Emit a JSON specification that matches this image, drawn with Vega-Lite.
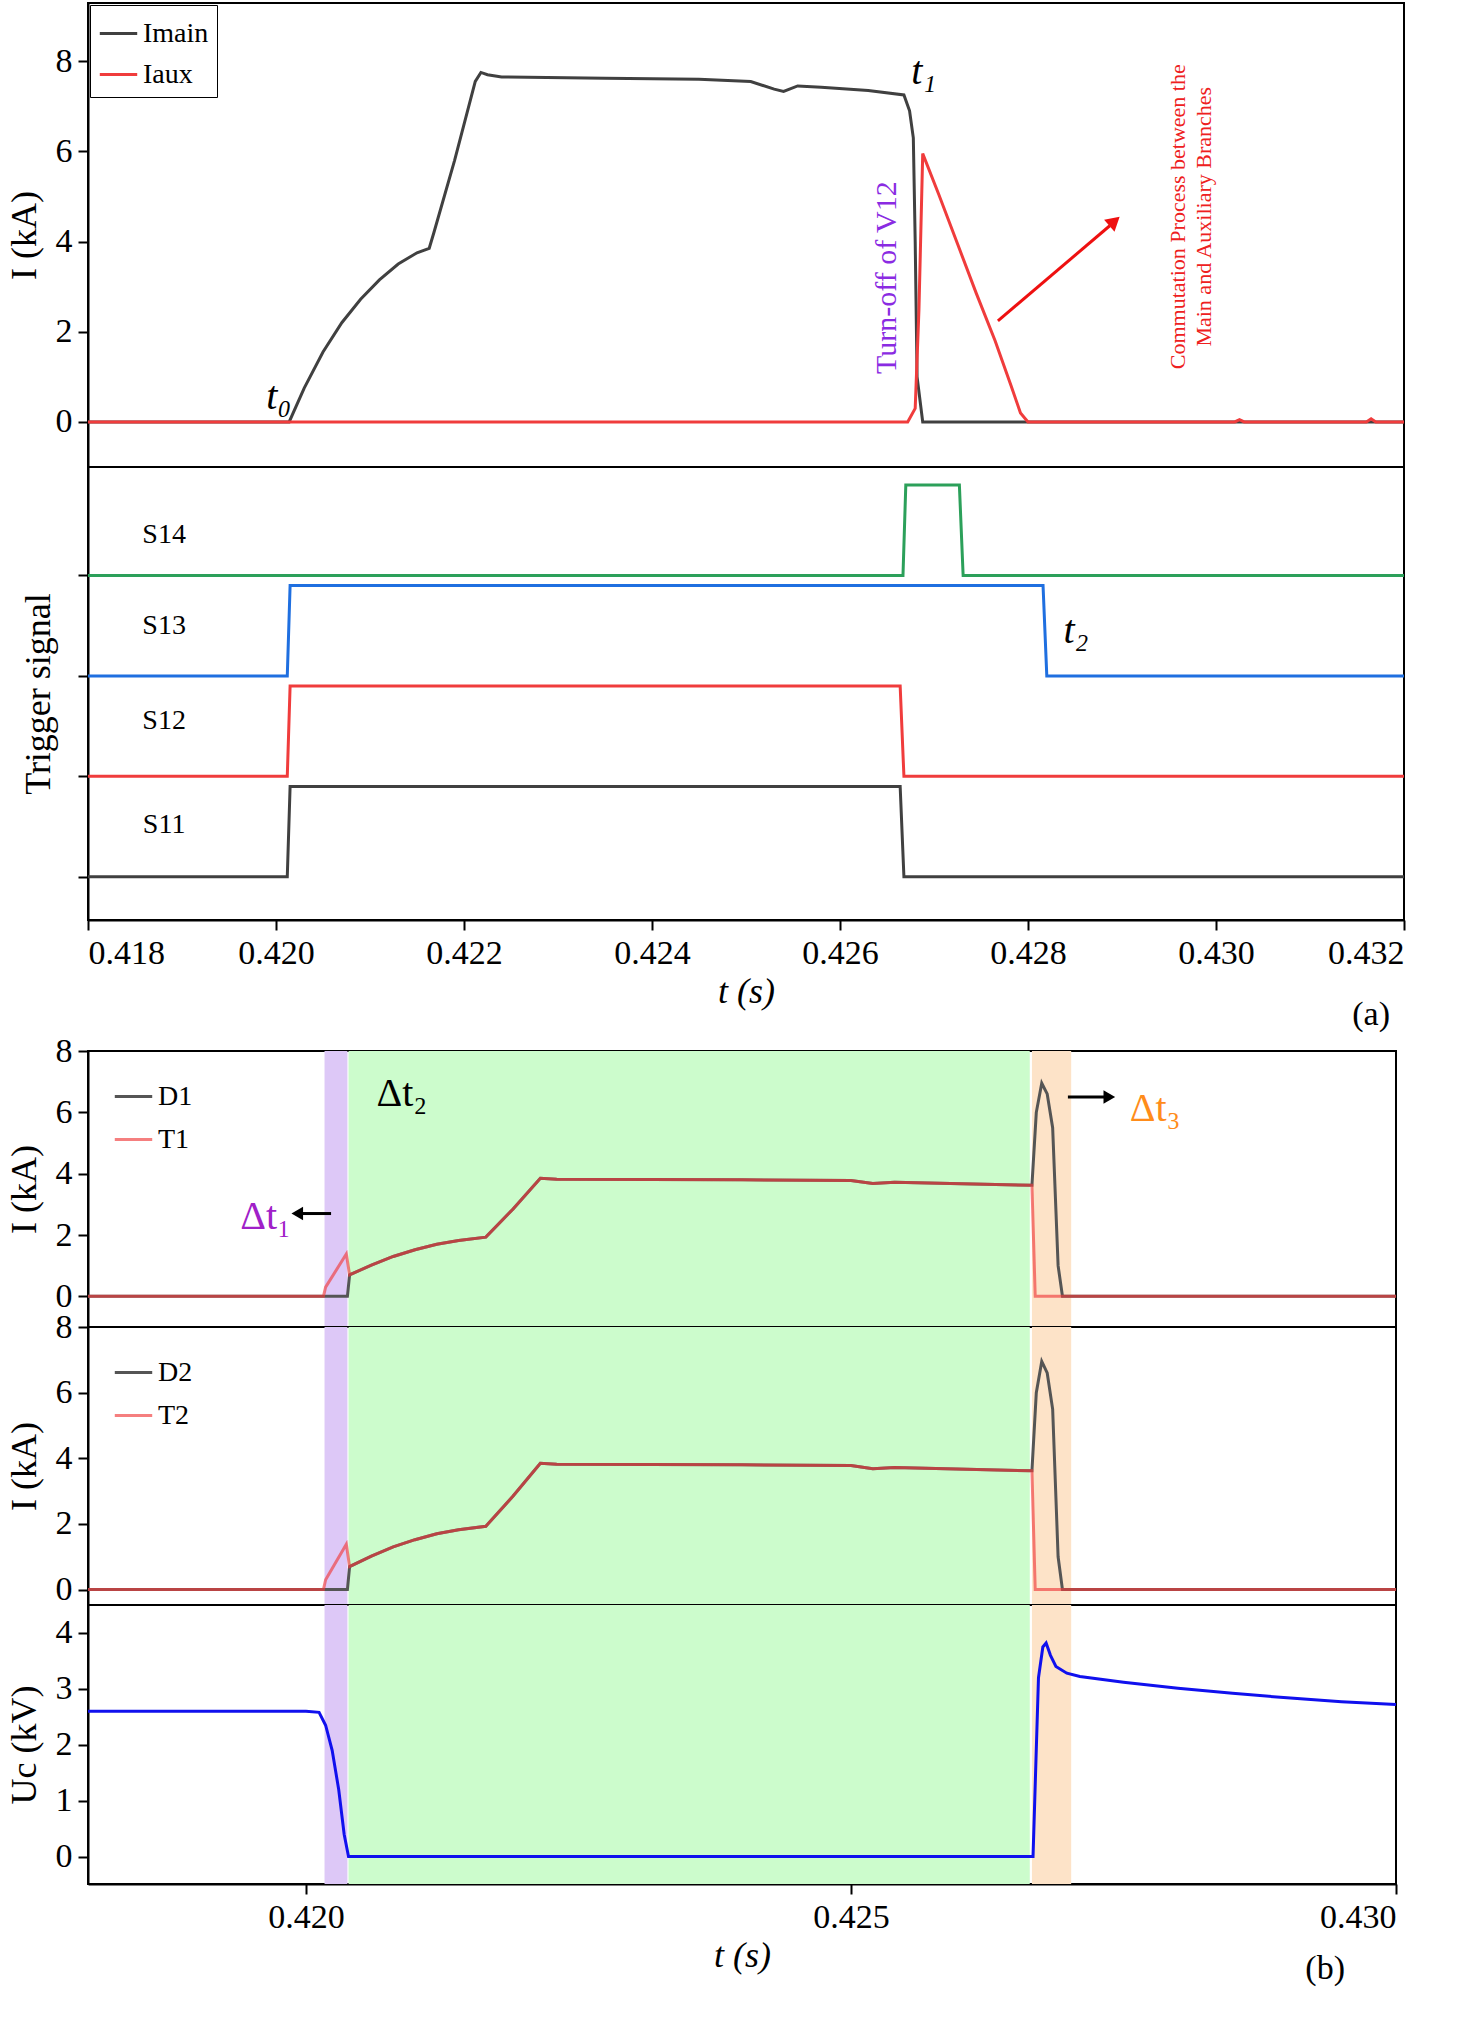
{
  "$schema": "https://vega.github.io/schema/vega-lite/v6.json",
  "background": "white",
  "padding": {"left": 5, "top": 2, "right": 20, "bottom": 5},
  "spacing": 0,
  "resolve": {"scale": {"x": "independent", "color": "independent", "stroke": "independent", "opacity": "independent", "shape": "independent"}, "legend": {"color": "independent", "stroke": "independent"}},
  "config": {
    "font": "Liberation Serif",
    "view": {"stroke": "black", "strokeWidth": 2},
    "axis": {"labelFont": "Liberation Serif", "titleFont": "Liberation Serif", "labelFontSize": 34, "titleFontSize": 36, "titleFontWeight": "normal", "labelColor": "black", "titleColor": "black", "domainColor": "black", "tickColor": "black", "domainWidth": 2, "tickWidth": 2, "tickSize": 10, "grid": false, "labelPadding": 6},
    "legend": {"labelFont": "Liberation Serif", "labelFontSize": 28, "labelColor": "black", "symbolStrokeWidth": 3, "symbolSize": 1400},
    "text": {"font": "Liberation Serif"}
  },
  "datasets": {
    "top": [
      {"t": 0.418, "i": 0, "s": "Imain"}, {"t": 0.42014, "i": 0, "s": "Imain"}, {"t": 0.4203, "i": 0.75, "s": "Imain"}, {"t": 0.4205, "i": 1.55, "s": "Imain"}, {"t": 0.4207, "i": 2.2, "s": "Imain"}, {"t": 0.4209, "i": 2.72, "s": "Imain"}, {"t": 0.4211, "i": 3.15, "s": "Imain"}, {"t": 0.4213, "i": 3.5, "s": "Imain"}, {"t": 0.4215, "i": 3.75, "s": "Imain"}, {"t": 0.42163, "i": 3.85, "s": "Imain"}, {"t": 0.42168, "i": 4.2, "s": "Imain"}, {"t": 0.4219, "i": 5.8, "s": "Imain"}, {"t": 0.42212, "i": 7.55, "s": "Imain"}, {"t": 0.42218, "i": 7.75, "s": "Imain"}, {"t": 0.42225, "i": 7.7, "s": "Imain"}, {"t": 0.4224, "i": 7.65, "s": "Imain"}, {"t": 0.4235, "i": 7.62, "s": "Imain"}, {"t": 0.4245, "i": 7.6, "s": "Imain"}, {"t": 0.42505, "i": 7.55, "s": "Imain"}, {"t": 0.4253, "i": 7.38, "s": "Imain"}, {"t": 0.4254, "i": 7.33, "s": "Imain"}, {"t": 0.42555, "i": 7.45, "s": "Imain"}, {"t": 0.4258, "i": 7.42, "s": "Imain"}, {"t": 0.4263, "i": 7.35, "s": "Imain"}, {"t": 0.42668, "i": 7.25, "s": "Imain"}, {"t": 0.42674, "i": 6.9, "s": "Imain"}, {"t": 0.42678, "i": 6.3, "s": "Imain"}, {"t": 0.4268, "i": 4.0, "s": "Imain"}, {"t": 0.42682, "i": 1.0, "s": "Imain"}, {"t": 0.42688, "i": 0, "s": "Imain"}, {"t": 0.432, "i": 0, "s": "Imain"},
      {"t": 0.418, "i": 0, "s": "Iaux"}, {"t": 0.42672, "i": 0, "s": "Iaux"}, {"t": 0.4268, "i": 0.3, "s": "Iaux"}, {"t": 0.42684, "i": 2.5, "s": "Iaux"}, {"t": 0.42688, "i": 5.95, "s": "Iaux"}, {"t": 0.42705, "i": 5.05, "s": "Iaux"}, {"t": 0.42725, "i": 3.95, "s": "Iaux"}, {"t": 0.42745, "i": 2.85, "s": "Iaux"}, {"t": 0.42765, "i": 1.8, "s": "Iaux"}, {"t": 0.42782, "i": 0.8, "s": "Iaux"}, {"t": 0.42792, "i": 0.2, "s": "Iaux"}, {"t": 0.428, "i": 0, "s": "Iaux"}, {"t": 0.4302, "i": 0, "s": "Iaux"}, {"t": 0.43025, "i": 0.05, "s": "Iaux"}, {"t": 0.4303, "i": 0, "s": "Iaux"}, {"t": 0.4316, "i": 0, "s": "Iaux"}, {"t": 0.43165, "i": 0.07, "s": "Iaux"}, {"t": 0.4317, "i": 0, "s": "Iaux"}, {"t": 0.432, "i": 0, "s": "Iaux"}
    ],
    "trig": [
      {"t": 0.418, "v": 0, "s": "S11"}, {"t": 0.42012, "v": 0, "s": "S11"}, {"t": 0.42015, "v": 0.9, "s": "S11"}, {"t": 0.42664, "v": 0.9, "s": "S11"}, {"t": 0.42668, "v": 0, "s": "S11"}, {"t": 0.432, "v": 0, "s": "S11"},
      {"t": 0.418, "v": 1, "s": "S12"}, {"t": 0.42012, "v": 1, "s": "S12"}, {"t": 0.42015, "v": 1.9, "s": "S12"}, {"t": 0.42664, "v": 1.9, "s": "S12"}, {"t": 0.42668, "v": 1, "s": "S12"}, {"t": 0.432, "v": 1, "s": "S12"},
      {"t": 0.418, "v": 2, "s": "S13"}, {"t": 0.42012, "v": 2, "s": "S13"}, {"t": 0.42015, "v": 2.9, "s": "S13"}, {"t": 0.42816, "v": 2.9, "s": "S13"}, {"t": 0.4282, "v": 2, "s": "S13"}, {"t": 0.432, "v": 2, "s": "S13"},
      {"t": 0.418, "v": 3, "s": "S14"}, {"t": 0.42667, "v": 3, "s": "S14"}, {"t": 0.4267, "v": 3.9, "s": "S14"}, {"t": 0.42727, "v": 3.9, "s": "S14"}, {"t": 0.42731, "v": 3, "s": "S14"}, {"t": 0.432, "v": 3, "s": "S14"}
    ],
    "trigLabels": [
      {"t": 0.41881, "v": 3.4, "s": "S14"}, {"t": 0.41881, "v": 2.5, "s": "S13"}, {"t": 0.41881, "v": 1.55, "s": "S12"}, {"t": 0.41881, "v": 0.52, "s": "S11"}
    ],
    "bi": [
      {"t": 0.418, "i": 0, "s": "D"}, {"t": 0.42038, "i": 0, "s": "D"}, {"t": 0.4204, "i": 0.7, "s": "D"}, {"t": 0.4206, "i": 1.02, "s": "D"}, {"t": 0.4208, "i": 1.3, "s": "D"}, {"t": 0.421, "i": 1.52, "s": "D"}, {"t": 0.4212, "i": 1.7, "s": "D"}, {"t": 0.4214, "i": 1.82, "s": "D"}, {"t": 0.42165, "i": 1.93, "s": "D"}, {"t": 0.4219, "i": 2.85, "s": "D"}, {"t": 0.42215, "i": 3.85, "s": "D"}, {"t": 0.4223, "i": 3.82, "s": "D"}, {"t": 0.424, "i": 3.8, "s": "D"}, {"t": 0.425, "i": 3.78, "s": "D"}, {"t": 0.4252, "i": 3.68, "s": "D"}, {"t": 0.4254, "i": 3.72, "s": "D"}, {"t": 0.42666, "i": 3.62, "s": "D"}, {"t": 0.4267, "i": 6.0, "s": "D"}, {"t": 0.42675, "i": 6.95, "s": "D"}, {"t": 0.4268, "i": 6.6, "s": "D"}, {"t": 0.42685, "i": 5.5, "s": "D"}, {"t": 0.4269, "i": 1.0, "s": "D"}, {"t": 0.42694, "i": 0, "s": "D"}, {"t": 0.43, "i": 0, "s": "D"},
      {"t": 0.418, "i": 0, "s": "T"}, {"t": 0.42016, "i": 0, "s": "T"}, {"t": 0.42018, "i": 0.3, "s": "T"}, {"t": 0.42037, "i": 1.38, "s": "T"}, {"t": 0.4204, "i": 0.7, "s": "T"}, {"t": 0.4206, "i": 1.02, "s": "T"}, {"t": 0.4208, "i": 1.3, "s": "T"}, {"t": 0.421, "i": 1.52, "s": "T"}, {"t": 0.4212, "i": 1.7, "s": "T"}, {"t": 0.4214, "i": 1.82, "s": "T"}, {"t": 0.42165, "i": 1.93, "s": "T"}, {"t": 0.4219, "i": 2.85, "s": "T"}, {"t": 0.42215, "i": 3.85, "s": "T"}, {"t": 0.4223, "i": 3.82, "s": "T"}, {"t": 0.424, "i": 3.8, "s": "T"}, {"t": 0.425, "i": 3.78, "s": "T"}, {"t": 0.4252, "i": 3.68, "s": "T"}, {"t": 0.4254, "i": 3.72, "s": "T"}, {"t": 0.42666, "i": 3.62, "s": "T"}, {"t": 0.42669, "i": 0, "s": "T"}, {"t": 0.43, "i": 0, "s": "T"}
    ],
    "uc": [
      {"t": 0.418, "u": 2.6}, {"t": 0.42, "u": 2.6}, {"t": 0.42012, "u": 2.58}, {"t": 0.42018, "u": 2.35}, {"t": 0.42024, "u": 1.9}, {"t": 0.4203, "u": 1.2}, {"t": 0.42035, "u": 0.4}, {"t": 0.42039, "u": 0}, {"t": 0.42667, "u": 0}, {"t": 0.42672, "u": 3.2}, {"t": 0.42676, "u": 3.75}, {"t": 0.42679, "u": 3.82}, {"t": 0.42683, "u": 3.6}, {"t": 0.42688, "u": 3.4}, {"t": 0.42698, "u": 3.28}, {"t": 0.4271, "u": 3.22}, {"t": 0.4275, "u": 3.12}, {"t": 0.428, "u": 3.01}, {"t": 0.4285, "u": 2.92}, {"t": 0.429, "u": 2.84}, {"t": 0.4295, "u": 2.77}, {"t": 0.43, "u": 2.72}
    ],
    "bands": [
      {"a": 0.42017, "b": 0.42038, "c": "p"}, {"a": 0.42039, "b": 0.42664, "c": "g"}, {"a": 0.42666, "b": 0.42702, "c": "o"}
    ]
  },
  "vconcat": [
    {
      "spacing": 0,
      "bounds": "flush",
      "resolve": {"scale": {"color": "independent"}, "legend": {"color": "independent"}},
      "vconcat": [
        {
          "width": 1316, "height": 464,
          "layer": [
            {
              "data": {"name": "top"},
              "mark": {"type": "line", "strokeWidth": 3},
              "encoding": {
                "x": {"field": "t", "type": "quantitative", "scale": {"domain": [0.418, 0.432], "nice": false}, "axis": {"labels": false, "ticks": false, "title": null, "domain": false}},
                "y": {"field": "i", "type": "quantitative", "scale": {"domain": [-1.0, 9.29], "nice": false}, "axis": {"values": [0, 2, 4, 6, 8], "title": "I (kA)", "titlePadding": 12}},
                "color": {"field": "s", "type": "nominal", "scale": {"domain": ["Imain", "Iaux"], "range": ["#404040", "#f03c3c"]}, "legend": {"title": null, "orient": "top-left", "offset": 2, "strokeColor": "black", "padding": 8, "symbolType": "stroke", "rowPadding": 6}}
              }
            },
            {
              "data": {"values": [{"t": 0.42003, "y": 0.55, "l": "t₀"}, {"t": 0.42689, "y": 7.75, "l": "t₁"}]},
              "mark": {"type": "text", "fontSize": 40, "fontStyle": "italic", "align": "center"},
              "encoding": {"x": {"field": "t", "type": "quantitative"}, "y": {"field": "y", "type": "quantitative"}, "text": {"field": "l"}}
            },
            {
              "data": {"values": [{"t": 0.4265, "y": 3.2, "l": "Turn-off of V12"}]},
              "mark": {"type": "text", "fontSize": 30, "angle": 270, "color": "#8a2be2", "align": "center", "baseline": "middle"},
              "encoding": {"x": {"field": "t", "type": "quantitative"}, "y": {"field": "y", "type": "quantitative"}, "text": {"field": "l"}}
            },
            {
              "data": {"values": [{"t": 0.4296, "y": 4.55, "l": ["Commutation Process between the", "Main and Auxiliary Branches"]}]},
              "mark": {"type": "text", "fontSize": 22, "angle": 270, "color": "#ee2020", "align": "center", "baseline": "middle", "lineHeight": 26},
              "encoding": {"x": {"field": "t", "type": "quantitative"}, "y": {"field": "y", "type": "quantitative"}, "text": {"field": "l"}}
            },
            {
              "data": {"values": [{"t": 0.42768, "y": 2.24, "t2": 0.42887, "y2": 4.35}]},
              "mark": {"type": "rule", "color": "#ee1010", "strokeWidth": 3},
              "encoding": {"x": {"field": "t", "type": "quantitative"}, "y": {"field": "y", "type": "quantitative"}, "x2": {"field": "t2"}, "y2": {"field": "y2"}}
            },
            {
              "data": {"values": [{"t": 0.42892, "y": 4.45}]},
              "mark": {"type": "point", "shape": "triangle-up", "filled": true, "color": "#ee1010", "size": 250, "angle": 49, "opacity": 1},
              "encoding": {"x": {"field": "t", "type": "quantitative"}, "y": {"field": "y", "type": "quantitative"}}
            }
          ]
        },
        {
          "width": 1316, "height": 453,
          "layer": [
            {
              "data": {"name": "trig"},
              "mark": {"type": "line", "strokeWidth": 3},
              "encoding": {
                "x": {"field": "t", "type": "quantitative", "scale": {"domain": [0.418, 0.432], "nice": false}, "axis": {"values": [0.418, 0.42, 0.422, 0.424, 0.426, 0.428, 0.43, 0.432], "format": ".3f", "title": "t (s)", "titleFontStyle": "italic", "titlePadding": 4}},
                "y": {"field": "v", "type": "quantitative", "scale": {"domain": [-0.43, 4.08], "nice": false}, "axis": {"values": [0, 1, 2, 3], "labels": false, "title": "Trigger signal", "titlePadding": 20}},
                "color": {"field": "s", "type": "nominal", "scale": {"domain": ["S11", "S12", "S13", "S14"], "range": ["#404040", "#f03c3c", "#1f6fe0", "#2ca05a"]}, "legend": null}
              }
            },
            {
              "data": {"name": "trigLabels"},
              "mark": {"type": "text", "fontSize": 28, "align": "center"},
              "encoding": {"x": {"field": "t", "type": "quantitative"}, "y": {"field": "v", "type": "quantitative"}, "text": {"field": "s"}}
            },
            {
              "data": {"values": [{"t": 0.42851, "v": 2.45, "l": "t₂"}]},
              "mark": {"type": "text", "fontSize": 40, "fontStyle": "italic", "align": "center"},
              "encoding": {"x": {"field": "t", "type": "quantitative"}, "y": {"field": "v", "type": "quantitative"}, "text": {"field": "l"}}
            },
            {
              "data": {"values": [{"t": 0.43165, "v": -0.43, "l": "(a)"}]},
              "mark": {"type": "text", "fontSize": 34, "align": "center", "dy": 95},
              "encoding": {"x": {"field": "t", "type": "quantitative"}, "y": {"field": "v", "type": "quantitative"}, "text": {"field": "l"}}
            }
          ]
        }
      ]
    },
    {
      "spacing": 0,
      "bounds": "flush",
      "resolve": {"scale": {"color": "independent", "stroke": "independent", "opacity": "independent"}, "legend": {"color": "independent", "stroke": "independent"}},
      "vconcat": [
        {
          "width": 1308, "height": 276,
          "layer": [
            {
              "data": {"name": "bands"},
              "mark": {"type": "rect"},
              "encoding": {
                "x": {"field": "a", "type": "quantitative", "scale": {"domain": [0.418, 0.43], "nice": false}, "axis": null},
                "x2": {"field": "b"},
                "color": {"field": "c", "type": "nominal", "scale": {"domain": ["p", "g", "o"], "range": ["#ddc8f7", "#ccfccc", "#fde3c8"]}, "legend": null}
              }
            },
            {
              "data": {"name": "bi"},
              "mark": {"type": "line", "strokeWidth": 3},
              "encoding": {
                "x": {"field": "t", "type": "quantitative"},
                "y": {"field": "i", "type": "quantitative", "scale": {"domain": [-1.0, 8], "nice": false}, "axis": {"values": [0, 2, 4, 6, 8], "title": "I (kA)", "titlePadding": 12}},
                "stroke": {"field": "s", "type": "nominal", "scale": {"domain": ["D", "T"], "range": ["#555555", "#f03c3c"]}, "legend": {"title": null, "orient": "top-left", "offset": 25, "labelExpr": "datum.label + '1'", "symbolType": "stroke", "rowPadding": 8}},
                "opacity": {"field": "s", "type": "nominal", "scale": {"domain": ["D", "T"], "range": [1, 0.65]}, "legend": null}
              }
            },
            {
              "data": {"values": [{"t": 0.42088, "y": 6.6, "l": "Δt₂", "c": "black"}, {"t": 0.41963, "y": 2.6, "l": "Δt₁", "c": "#a020c8"}, {"t": 0.42779, "y": 6.1, "l": "Δt₃", "c": "#ff8c1a"}]},
              "mark": {"type": "text", "fontSize": 40, "align": "center"},
              "encoding": {"x": {"field": "t", "type": "quantitative"}, "y": {"field": "y", "type": "quantitative"}, "text": {"field": "l"}, "color": {"field": "c", "type": "nominal", "scale": null}}
            },
            {
              "data": {"values": [{"t": 0.42023, "y": 2.7, "t2": 0.41995}, {"t": 0.42699, "y": 6.5, "t2": 0.42733}]},
              "mark": {"type": "rule", "color": "black", "strokeWidth": 3},
              "encoding": {"x": {"field": "t", "type": "quantitative"}, "y": {"field": "y", "type": "quantitative"}, "x2": {"field": "t2"}}
            },
            {
              "data": {"values": [{"t": 0.41992, "y": 2.7, "sh": "triangle-left"}, {"t": 0.42737, "y": 6.5, "sh": "triangle-right"}]},
              "mark": {"type": "point", "filled": true, "color": "black", "size": 180, "opacity": 1},
              "encoding": {"x": {"field": "t", "type": "quantitative"}, "y": {"field": "y", "type": "quantitative"}, "shape": {"field": "sh", "type": "nominal", "scale": null}}
            }
          ]
        },
        {
          "width": 1308, "height": 278,
          "layer": [
            {
              "data": {"name": "bands"},
              "mark": {"type": "rect"},
              "encoding": {
                "x": {"field": "a", "type": "quantitative", "scale": {"domain": [0.418, 0.43], "nice": false}, "axis": null},
                "x2": {"field": "b"},
                "color": {"field": "c", "type": "nominal", "scale": {"domain": ["p", "g", "o"], "range": ["#ddc8f7", "#ccfccc", "#fde3c8"]}, "legend": null}
              }
            },
            {
              "data": {"name": "bi"},
              "mark": {"type": "line", "strokeWidth": 3},
              "encoding": {
                "x": {"field": "t", "type": "quantitative"},
                "y": {"field": "i", "type": "quantitative", "scale": {"domain": [-0.47, 8], "nice": false}, "axis": {"values": [0, 2, 4, 6, 8], "title": "I (kA)", "titlePadding": 12}},
                "stroke": {"field": "s", "type": "nominal", "scale": {"domain": ["D", "T"], "range": ["#555555", "#f03c3c"]}, "legend": {"title": null, "orient": "top-left", "offset": 25, "labelExpr": "datum.label + '2'", "symbolType": "stroke", "rowPadding": 8}},
                "opacity": {"field": "s", "type": "nominal", "scale": {"domain": ["D", "T"], "range": [1, 0.65]}, "legend": null}
              }
            }
          ]
        },
        {
          "width": 1308, "height": 279,
          "layer": [
            {
              "data": {"name": "bands"},
              "mark": {"type": "rect"},
              "encoding": {
                "x": {"field": "a", "type": "quantitative", "scale": {"domain": [0.418, 0.43], "nice": false}, "axis": {"values": [0.42, 0.425, 0.43], "format": ".3f", "title": "t (s)", "titleFontStyle": "italic", "titlePadding": 4}},
                "x2": {"field": "b"},
                "color": {"field": "c", "type": "nominal", "scale": {"domain": ["p", "g", "o"], "range": ["#ddc8f7", "#ccfccc", "#fde3c8"]}, "legend": null}
              }
            },
            {
              "data": {"name": "uc"},
              "mark": {"type": "line", "strokeWidth": 3, "color": "#1010ee"},
              "encoding": {
                "x": {"field": "t", "type": "quantitative"},
                "y": {"field": "u", "type": "quantitative", "scale": {"domain": [-0.49, 4.5], "nice": false}, "axis": {"values": [0, 1, 2, 3, 4], "title": "Uc (kV)", "titlePadding": 12}}
              }
            },
            {
              "data": {"values": [{"t": 0.42935, "u": -0.49, "l": "(b)"}]},
              "mark": {"type": "text", "fontSize": 34, "dy": 85},
              "encoding": {"x": {"field": "t", "type": "quantitative"}, "y": {"field": "u", "type": "quantitative"}, "text": {"field": "l"}}
            }
          ]
        }
      ]
    }
  ]
}
